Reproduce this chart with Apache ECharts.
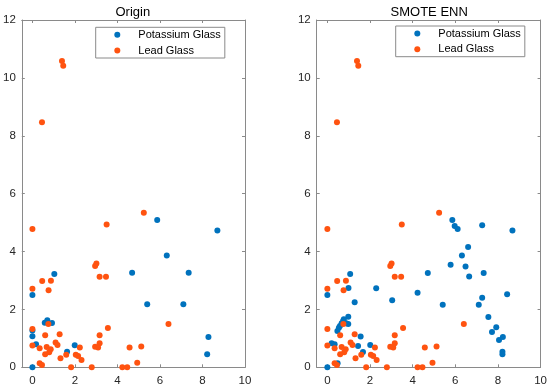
<!DOCTYPE html>
<html><head><meta charset="utf-8">
<script src="https://cdn.jsdelivr.net/npm/echarts@6/dist/echarts.min.js"></script>
<style>html,body{margin:0;padding:0;background:#fff}#c{width:550px;height:390px}</style>
</head><body><div id="c"></div>
<script>
const titles = ['Origin', 'SMOTE ENN'];
const seriesNames = ['Potassium Glass', 'Lead Glass'];
const xTickValues = [0, 2, 4, 6, 8, 10];
const yTickValues = [0, 2, 4, 6, 8, 10, 12];

const originPotassium = [[5.87,5.09],[8.70,4.73],[6.32,3.86],[4.69,3.27],[7.35,3.27],[1.03,3.22],[0,2.50],[5.40,2.18],[7.10,2.18],[0.58,1.54],[0.70,1.63],[0.92,1.53],[0,1.27],[0,1.07],[8.28,1.05],[0.17,0.80],[1.99,0.76],[1.63,0.54],[8.22,0.45],[0,0]];
const originLead = [[1.39,10.58],[1.45,10.42],[0.45,8.47],[0,4.78],[3.49,4.93],[5.24,5.34],[2.95,3.50],[3.01,3.59],[3.16,3.13],[3.46,3.13],[0.46,2.98],[0.87,2.99],[0,2.71],[0.76,2.66],[0.75,1.50],[6.40,1.50],[3.55,1.36],[0,1.32],[1.28,1.14],[0.60,1.11],[3.16,1.11],[1.09,0.86],[1.18,0.77],[0,0.75],[0.67,0.70],[3.16,0.83],[2.95,0.71],[3.09,0.68],[2.23,0.68],[5.12,0.72],[4.57,0.68],[0.34,0.66],[0.86,0.62],[0.79,0.52],[0.60,0.45],[1.59,0.43],[2.04,0.43],[2.15,0.39],[1.32,0.31],[2.31,0.25],[0.34,0.14],[0.45,0.08],[4.93,0.16],[1.82,0],[2.79,0],[4.23,0],[4.46,0]];
const smotePotassium = [[5.86,5.09],[5.97,4.88],[6.11,4.78],[7.26,4.91],[8.68,4.73],[6.60,4.16],[6.31,3.86],[5.78,3.54],[6.48,3.48],[6.65,3.14],[7.33,3.26],[4.71,3.26],[1.07,3.22],[0.99,2.74],[2.29,2.73],[0,2.50],[4.23,2.58],[8.43,2.52],[7.26,2.40],[1.28,2.25],[3.04,2.32],[5.41,2.16],[7.10,2.16],[7.55,1.74],[0.98,1.75],[7.92,1.38],[7.72,1.22],[8.05,0.94],[8.23,1.05],[8.21,0.54],[8.21,0.45],[0.88,1.52],[0.98,1.50],[0.74,1.60],[0.77,1.66],[0.67,1.52],[0.59,1.43],[0.54,1.37],[0.47,1.25],[1.56,1.06],[1.44,0.74],[2.01,0.77],[1.67,0.53],[0.20,0.83],[0.34,0.80],[0.48,0.14],[0,0]];
const smoteLead = [[1.39,10.58],[1.45,10.42],[0.45,8.47],[0,4.78],[3.49,4.93],[5.24,5.34],[2.95,3.50],[3.01,3.59],[3.16,3.13],[3.46,3.13],[0.46,2.98],[0.87,2.99],[0,2.71],[0.76,2.66],[0.75,1.50],[6.40,1.50],[3.55,1.36],[0,1.32],[1.28,1.14],[0.60,1.11],[3.16,1.11],[1.09,0.86],[1.18,0.77],[0,0.75],[0.67,0.70],[3.16,0.83],[2.95,0.71],[3.09,0.68],[2.23,0.68],[5.12,0.72],[4.57,0.68],[0.34,0.66],[0.86,0.62],[0.79,0.52],[0.60,0.45],[1.59,0.43],[2.04,0.43],[2.15,0.39],[1.32,0.31],[2.31,0.25],[0.34,0.14],[0.45,0.08],[4.93,0.16],[1.82,0],[2.79,0],[4.23,0],[4.46,0]];

const BLUE = '#0072BD', ORANGE = '#FF5310', AX = '#8a8a8a', TXT = '#262626';
const FONT = '"Liberation Sans", Arial, Helvetica, sans-serif';

const grids = [
  {left: 20.7, top: 20, width: 224.3, height: 347.3},
  {left: 316.7, top: 20, width: 225, height: 347.3}
];

const xAxes = [], yAxes = [];
grids.forEach((g, i) => {
  xAxes.push({gridIndex: i, type: 'value', position: 'bottom', min: -0.5, max: 10,
    axisLine: {show: true, onZero: false, lineStyle: {color: AX, width: 1}},
    axisTick: {show: true, inside: true, length: 3, customValues: xTickValues, lineStyle: {color: AX}},
    axisLabel: {customValues: xTickValues, color: TXT, fontSize: 11.5, fontFamily: FONT, margin: 8},
    splitLine: {show: false}});
  xAxes.push({gridIndex: i, type: 'value', position: 'top', min: -0.5, max: 10,
    axisLine: {show: true, onZero: false, lineStyle: {color: AX, width: 1}},
    axisTick: {show: true, inside: true, length: 3, customValues: xTickValues, lineStyle: {color: AX}},
    axisLabel: {show: false}, splitLine: {show: false}});
  yAxes.push({gridIndex: i, type: 'value', position: 'left', min: 0, max: 12, interval: 2,
    axisLine: {show: true, onZero: false, lineStyle: {color: AX, width: 1}},
    axisTick: {show: true, inside: true, length: 3, lineStyle: {color: AX}},
    axisLabel: {color: TXT, fontSize: 11.5, fontFamily: FONT, margin: 6},
    splitLine: {show: false}});
  yAxes.push({gridIndex: i, type: 'value', position: 'right', min: 0, max: 12, interval: 2,
    axisLine: {show: true, onZero: false, lineStyle: {color: AX, width: 1}},
    axisTick: {show: true, inside: true, length: 3, lineStyle: {color: AX}},
    axisLabel: {show: false}, splitLine: {show: false}});
});

function sc(name, data, color, gi) {
  return {type: 'scatter', name: name, data: data, xAxisIndex: gi * 2, yAxisIndex: gi * 2,
    symbol: 'circle', symbolSize: 6, itemStyle: {color: color, opacity: 1},
    emphasis: {disabled: true}, silent: true};
}

function legend(left, top) {
  return {left: left, top: top, orient: 'vertical', icon: 'circle', itemWidth: 6, itemHeight: 6,
    itemGap: 4.7, padding: [2, 4, 2, 18.6], borderColor: AX, borderWidth: 1, backgroundColor: '#fff',
    data: seriesNames, selectedMode: false,
    textStyle: {fontSize: 11, color: '#000', fontFamily: FONT, padding: [0, 0, 0, 13]}};
}

const option = {
  animation: false,
  backgroundColor: '#fff',
  grid: grids,
  xAxis: xAxes,
  yAxis: yAxes,
  legend: [legend(95.7, 27.3), legend(395.7, 26)],
  graphic: titles.map((t, i) => ({type: 'text', x: grids[i].left + grids[i].width / 2, y: 12.3,
    style: {text: t, fill: '#000', font: '13px ' + FONT, textAlign: 'center', textVerticalAlign: 'middle', align: 'center', verticalAlign: 'middle'}})),
  series: [
    sc(seriesNames[0], originPotassium, BLUE, 0),
    sc(seriesNames[1], originLead, ORANGE, 0),
    sc(seriesNames[0], smotePotassium, BLUE, 1),
    sc(seriesNames[1], smoteLead, ORANGE, 1)
  ]
};
const chart = echarts.init(document.getElementById('c'), null, {renderer: 'canvas'});
chart.setOption(option);
</script></body></html>
